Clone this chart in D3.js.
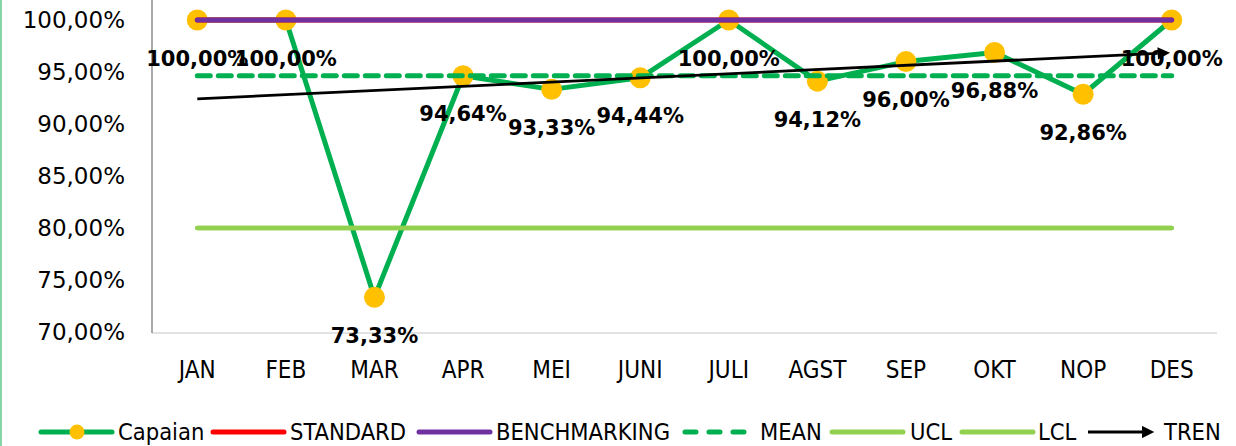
<!DOCTYPE html>
<html>
<head>
<meta charset="utf-8">
<script src="https://cdn.jsdelivr.net/npm/d3@7"></script>
<style>
  body { margin: 0; background: #fff; }
  svg { display: block; }
</style>
</head>
<body>
<svg id="chart" width="1236" height="446"></svg>
<script>
// data
var months = ["JAN","FEB","MAR","APR","MEI","JUNI","JULI","AGST","SEP","OKT","NOP","DES"]
var capaian = [100, 100, 73.33, 94.64, 93.33, 94.44, 100, 94.12, 96.00, 96.88, 92.86, 100]
var standard = [100,100,100,100,100,100,100,100,100,100,100,100]
var benchmarking = [100,100,100,100,100,100,100,100,100,100,100,100]
var meanVal = [94.63,94.63,94.63,94.63,94.63,94.63,94.63,94.63,94.63,94.63,94.63,94.63]
var ucl = [80,80,80,80,80,80,80,80,80,80,80,80]
var lcl = [80,80,80,80,80,80,80,80,80,80,80,80]
var yTicks = [70, 75, 80, 85, 90, 95, 100]

var legendItems = [
  {name: "Capaian", kind: "marker", x: 41, tx: 118},
  {name: "STANDARD", kind: "red", x: 213, tx: 290},
  {name: "BENCHMARKING", kind: "purple", x: 419, tx: 496},
  {name: "MEAN", kind: "dash", x: 683, tx: 760},
  {name: "UCL", kind: "ucl", x: 832, tx: 910},
  {name: "LCL", kind: "lcl", x: 962, tx: 1038},
  {name: "TREN", kind: "arrow", x: 1088, tx: 1164}
]

var svg = d3.select("#chart")

var x = d3.scaleBand().domain(months).range([153, 1216])
var y = d3.scaleLinear().domain([70, 100]).range([332, 20])
function cx(d, i) { return x(months[i]) + x.bandwidth() / 2 }

var fmt = function(v) { return v.toFixed(2).replace(".", ",") + "%" }

// left border
svg.append("line").attr("x1", 1).attr("x2", 1).attr("y1", 0).attr("y2", 446)
  .style("stroke", "#5fc98c").style("stroke-width", 1.5)

// axes lines
svg.append("line").attr("x1", 152).attr("x2", 1217).attr("y1", 333).attr("y2", 333)
  .style("stroke", "#d9d9d9").style("stroke-width", 1.5)
svg.append("line").attr("x1", 152).attr("x2", 152).attr("y1", 0).attr("y2", 333)
  .style("stroke", "#8c8c8c").style("stroke-width", 1.5)

// y tick labels
svg.selectAll(".ylab").data(yTicks).enter().append("text")
  .attr("class", "ylab")
  .attr("x", 125)
  .attr("y", function(d){ return y(d) })
  .attr("dy", "0.36em")
  .attr("text-anchor", "end")
  .style("font-family", "DejaVu Sans")
  .style("font-size", "23px")
  .text(function(d){ return fmt(d) })

// x tick labels
svg.selectAll(".xlab").data(months).enter().append("text")
  .attr("class", "xlab")
  .attr("x", function(d){ return x(d) + x.bandwidth() / 2 })
  .attr("y", 378)
  .attr("text-anchor", "middle")
  .style("font-family", "DejaVu Sans Condensed")
  .style("font-size", "24px")
  .text(function(d){ return d })

var line = d3.line().x(cx).y(function(d){ return y(d) })

// Capaian
svg.append("path").datum(capaian).attr("d", line)
  .style("fill", "none").style("stroke", "#00b050").style("stroke-width", 5)
  .style("stroke-linejoin", "round")
svg.selectAll(".pt").data(capaian).enter().append("circle")
  .attr("class", "pt")
  .attr("cx", cx).attr("cy", function(d){ return y(d) })
  .attr("r", 10.5)
  .style("fill", "#ffc000")

// standard (hidden beneath benchmarking)
svg.append("path").datum(standard).attr("d", line)
  .style("fill", "none").style("stroke", "#ff0000").style("stroke-width", 5)
  .style("stroke-linecap", "round")
svg.append("path").datum(benchmarking).attr("d", line)
  .style("fill", "none").style("stroke", "#7030a0").style("stroke-width", 5)
  .style("stroke-linecap", "round")

// mean
svg.append("path").datum(meanVal).attr("d", line)
  .style("fill", "none").style("stroke", "#00b050").style("stroke-width", 5)
  .style("stroke-dasharray", "13,8").style("stroke-linecap", "round")

// ucl / lcl
svg.append("path").datum(ucl).attr("d", line)
  .style("fill", "none").style("stroke", "#92d050").style("stroke-width", 4.5)
  .style("stroke-linecap", "round")
svg.append("path").datum(lcl).attr("d", line)
  .style("fill", "none").style("stroke", "#92d050").style("stroke-width", 4.5)
  .style("stroke-linecap", "round")

// trend: least squares fit of capaian, JAN to DES with arrow head
var n = capaian.length
var mx = d3.mean(capaian, function(d, i){ return i })
var my = d3.mean(capaian)
var sxy = d3.sum(capaian, function(d, i){ return (i - mx) * (d - my) })
var sxx = d3.sum(capaian, function(d, i){ return (i - mx) * (i - mx) })
var slope = sxy / sxx
var icpt = my - slope * mx
var step = x.step()
var headLen = 14

var defs = svg.append("defs")
defs.append("marker").attr("id", "arrow")
  .attr("viewBox", "0 0 10 10").attr("refX", 0).attr("refY", 5)
  .attr("markerWidth", 5).attr("markerHeight", 4.4).attr("orient", "auto")
  .append("path").attr("d", "M0,0 L10,5 L0,10 z").style("fill", "#000")

svg.append("line")
  .attr("x1", cx(0, 0)).attr("y1", y(icpt))
  .attr("x2", cx(0, n - 1) - headLen)
  .attr("y2", y(icpt + slope * ((n - 1) - headLen / step)))
  .style("stroke", "#000").style("stroke-width", 2.8)
  .attr("marker-end", "url(#arrow)")

// data labels
svg.selectAll(".dlab").data(capaian).enter().append("text")
  .attr("class", "dlab")
  .attr("x", cx)
  .attr("y", function(d){ return y(d) + 38 })
  .attr("dy", "0.36em")
  .attr("text-anchor", "middle")
  .style("font-family", "DejaVu Sans")
  .style("font-weight", "bold")
  .style("font-size", "21px")
  .text(function(d){ return fmt(d) })

// legend
var ly = 432
var lg = svg.selectAll(".leg").data(legendItems).enter().append("g").attr("class", "leg")
lg.each(function(d){
  var g = d3.select(this)
  if (d.kind === "marker") {
    g.append("line").attr("x1", d.x).attr("x2", d.x + 71).attr("y1", ly).attr("y2", ly)
      .style("stroke", "#00b050").style("stroke-width", 5).style("stroke-linecap", "round")
    g.append("circle").attr("cx", d.x + 36).attr("cy", ly).attr("r", 7.5).style("fill", "#ffc000")
  } else if (d.kind === "dash") {
    g.append("line").attr("x1", d.x + 2).attr("x2", d.x + 66).attr("y1", ly).attr("y2", ly)
      .style("stroke", "#00b050").style("stroke-width", 5).style("stroke-linecap", "round")
      .style("stroke-dasharray", "11,13")
  } else if (d.kind === "arrow") {
    g.append("line").attr("x1", d.x).attr("x2", d.x + 68 - headLen).attr("y1", ly).attr("y2", ly)
      .style("stroke", "#000").style("stroke-width", 2.8)
      .attr("marker-end", "url(#arrow)")
  } else {
    var col = {red: "#ff0000", purple: "#7030a0", ucl: "#92d050", lcl: "#92d050"}[d.kind]
    g.append("line").attr("x1", d.x).attr("x2", d.x + 71).attr("y1", ly).attr("y2", ly)
      .style("stroke", col).style("stroke-width", 5).style("stroke-linecap", "round")
  }
  g.append("text").attr("x", d.tx).attr("y", ly).attr("dy", "0.36em")
    .style("font-family", "DejaVu Sans Condensed")
    .style("font-size", "23.5px")
    .text(d.name)
})
</script>
</body>
</html>
